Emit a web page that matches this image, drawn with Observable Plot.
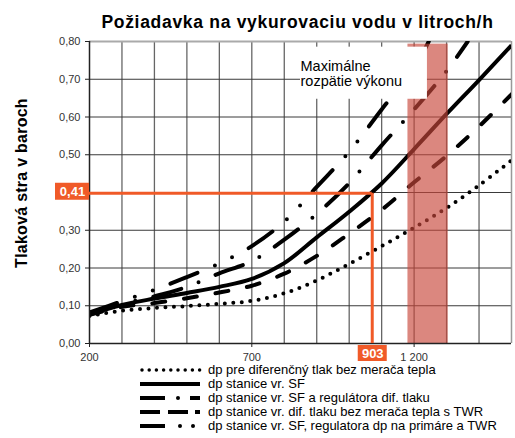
<!DOCTYPE html>
<html><head><meta charset="utf-8">
<script src="https://cdn.jsdelivr.net/npm/d3@7"></script>
<script src="https://cdn.jsdelivr.net/npm/@observablehq/plot@0.6"></script>
<style>
body{margin:0;background:#fff;font-family:"Liberation Sans",Arial,sans-serif;}
#wrap{position:relative;width:515px;height:438px;overflow:hidden;background:#fff;}
#chart{position:absolute;left:0;top:0;}
#title{position:absolute;left:40px;width:515px;top:12px;text-align:center;font-weight:bold;font-size:17.5px;line-height:20px;letter-spacing:0.7px;color:#000;white-space:nowrap;}
#ytitle{position:absolute;left:-78px;top:173px;width:200px;height:20px;line-height:20px;text-align:center;font-weight:bold;font-size:16px;letter-spacing:0.25px;color:#000;white-space:nowrap;transform:rotate(-90deg);transform-origin:50% 50%;}
#legend{position:absolute;left:135px;top:361px;width:380px;padding:2px 0 0 5px;background:#fff;}
.row{display:flex;align-items:center;height:14px;font-size:13px;line-height:14px;color:#000;white-space:nowrap;}
.row svg{width:62px;height:14px;margin-right:6px;flex:none;}
</style></head><body>
<div id="wrap"><div id="chart"></div><div id="title"></div><div id="ytitle"></div><div id="legend"></div></div>
<script>
// ---- data ----
const titleText = "Požiadavka na vykurovaciu vodu v litroch/h";
const yTitle = "Tlaková stra v baroch";
const seriesNames = [
  "dp pre diferenčný tlak bez merača tepla",
  "dp stanice vr. SF",
  "dp stanice vr. SF a regulátora dif. tlaku",
  "dp stanice vr. dif. tlaku bez merača tepla s TWR",
  "dp stanice vr. SF, regulatora dp na primáre a TWR"
];
const xDotted = [200, 300, 400, 500, 600, 700, 800, 900, 1000, 1100, 1200, 1300, 1400, 1500];
const yDotted = [0.073, 0.087, 0.094, 0.099, 0.105, 0.113, 0.133, 0.167, 0.211, 0.258, 0.307, 0.359, 0.419, 0.485];
const xSolid = [200, 300, 400, 500, 600, 700, 800, 900, 1000, 1100, 1200, 1300, 1400, 1500];
const ySolid = [0.077, 0.102, 0.119, 0.134, 0.150, 0.171, 0.213, 0.281, 0.349, 0.424, 0.515, 0.608, 0.698, 0.790];
const xDashDot = [200, 300, 400, 500, 600, 700, 800, 900, 1000, 1100, 1200, 1300, 1365];
const yDashDot = [0.080, 0.105, 0.125, 0.150, 0.186, 0.218, 0.275, 0.343, 0.425, 0.525, 0.620, 0.722, 0.800];
const xDashed = [200, 300, 400, 500, 600, 700, 800, 900, 1000, 1100, 1200, 1300, 1400, 1500];
const yDashed = [0.076, 0.097, 0.107, 0.120, 0.135, 0.153, 0.185, 0.232, 0.291, 0.354, 0.427, 0.497, 0.575, 0.660];
const xDashDotDot = [200, 300, 400, 500, 600, 700, 800, 900, 1000, 1100, 1200, 1245];
const yDashDotDot = [0.082, 0.112, 0.142, 0.176, 0.212, 0.258, 0.323, 0.415, 0.508, 0.620, 0.730, 0.800];
const xGrid = [300, 400, 500, 600, 700, 800, 900, 1000, 1100, 1200, 1300, 1400];
const yGrid = [0.1, 0.2, 0.3, 0.4, 0.5, 0.6, 0.7];
const xTicks = [200, 700, 1200];
const yTicks = [0, 0.1, 0.2, 0.3, 0.4, 0.5, 0.6, 0.7, 0.8];
const yHiddenLabel = 0.4;
const xDomain = [200, 1500];
const yDomain = [0, 0.8];
const bandX = [1181, 1305];
const bandTop = 0.793;
const boxX = [850, 1241];
const boxY = [0.647, 0.785];
const boxLines = ["Maximálne", "rozpätie výkonu"];
const boxLineY = [0.723, 0.683];
const markerX = 1071;
const markerY = 0.398;
const markerLabels = ["0,41", "903"];

// ---- build ----
const orange = "#f05a28";
const mk = (xs, ys) => xs.map((x, i) => ({x, y: ys[i]}));
const lineStyle = {x: "x", y: "y", stroke: "#000", strokeWidth: 4, curve: "catmull-rom", clip: true};
const series = [
  {data: mk(xDotted, yDotted), dash: "0,8.5", cap: "round"},
  {data: mk(xSolid, ySolid), dash: null, cap: "butt"},
  {data: mk(xDashDot, yDashDot), dash: "29,18.5,0,18.5", cap: "round"},
  {data: mk(xDashed, yDashed), dash: "13,19", cap: "round"},
  {data: mk(xDashDotDot, yDashDotDot), dash: "29,19,0,19,0,19", cap: "round"}
];
const fmtX = d => d3.format(",")(d).replace(",", " ");
const fmtY = d => d === yHiddenLabel ? "" : d.toFixed(2).replace(".", ",");
const one = [0];

const chart = Plot.plot({
  width: 515, height: 365,
  marginLeft: 89, marginRight: 4, marginTop: 41, marginBottom: 22,
  style: {fontFamily: "Liberation Sans, Arial, sans-serif", fontSize: "11px", color: "#333", background: "transparent"},
  x: {domain: xDomain},
  y: {domain: yDomain},
  marks: [
    Plot.ruleX(xGrid, {stroke: "#666", strokeWidth: 1.3}),
    Plot.ruleY(yGrid, {stroke: "#3a3a3a", strokeWidth: 1}),
    Plot.ruleY([yDomain[1]], {stroke: "#aaa", strokeWidth: 2}),
    Plot.ruleX([xDomain[1]], {stroke: "#999", strokeWidth: 1.5}),
    ...series.map(s => Plot.line(s.data, {...lineStyle, strokeDasharray: s.dash || undefined, strokeLinecap: s.cap})),
    Plot.rect(one, {x1: () => bandX[0], x2: () => bandX[1], y1: () => 0, y2: () => bandTop, fill: "#c8473a", fillOpacity: 0.65}),
    Plot.rect(one, {x1: () => boxX[0], x2: () => boxX[1], y1: () => boxY[0], y2: () => boxY[1], fill: "#fff"}),
    Plot.text(boxLines, {x: () => boxX[0], y: (d, i) => boxLineY[i], text: d => d, textAnchor: "start", lineAnchor: "bottom", fontSize: 14.5, fill: "#000"}),
    Plot.axisY({ticks: yTicks, tickFormat: fmtY, tickSize: 4, tickPadding: 5, label: null, stroke: "#222", fill: "#333", fontSize: 11}),
    Plot.axisX({ticks: xTicks, tickFormat: fmtX, tickSize: 4, tickPadding: 6, label: null, stroke: "#222", fill: "#333", fontSize: 11}),
    Plot.ruleX([xDomain[0]], {stroke: "#222", strokeWidth: 1.5}),
    Plot.ruleY([0], {stroke: "#222", strokeWidth: 1.5}),
    Plot.ruleY([markerY], {x1: xDomain[0], x2: markerX, stroke: orange, strokeWidth: 3}),
    Plot.ruleX([markerX], {y1: 0, y2: markerY, stroke: orange, strokeWidth: 3}),
    Plot.rect([markerY], {x1: () => xDomain[0], x2: () => xDomain[0], y1: d => d, y2: d => d, insetLeft: -34, insetRight: 0, insetTop: -10, insetBottom: -7, fill: orange}),
    Plot.text([markerY], {x: () => xDomain[0], y: d => d, text: () => markerLabels[0], dx: -17, dy: -1, fill: "#fff", fontWeight: "bold", fontSize: 13}),
    Plot.rect([markerX], {x1: d => d, x2: d => d, y1: () => 0, y2: () => 0, insetLeft: -14, insetRight: -15, insetTop: 2, insetBottom: -18, fill: orange}),
    Plot.text([markerX], {x: d => d, y: () => 0, text: () => markerLabels[1], dx: 0.5, dy: 10, fill: "#fff", fontWeight: "bold", fontSize: 13})
  ]
});
document.getElementById("chart").appendChild(chart);
document.getElementById("title").textContent = titleText;
document.getElementById("ytitle").textContent = yTitle;

// legend
const sw = [
  `<line x1="2" y1="7" x2="60" y2="7" stroke="#000" stroke-width="3.5" stroke-linecap="round" stroke-dasharray="0,7.2"/>`,
  `<line x1="0" y1="7" x2="60" y2="7" stroke="#000" stroke-width="4"/>`,
  `<line x1="0" y1="7" x2="25" y2="7" stroke="#000" stroke-width="4"/><circle cx="38" cy="7" r="2"/><line x1="50" y1="7" x2="60" y2="7" stroke="#000" stroke-width="4"/>`,
  `<line x1="0" y1="7" x2="20" y2="7" stroke="#000" stroke-width="4"/><line x1="28" y1="7" x2="48" y2="7" stroke="#000" stroke-width="4"/><line x1="55" y1="7" x2="60" y2="7" stroke="#000" stroke-width="4"/>`,
  `<line x1="0" y1="7" x2="25" y2="7" stroke="#000" stroke-width="4"/><circle cx="40" cy="7" r="2"/><circle cx="53" cy="7" r="2"/>`
];
document.getElementById("legend").innerHTML = seriesNames.map((n, i) =>
  `<div class="row"><svg viewBox="0 0 62 14">${sw[i]}</svg><span>${n}</span></div>`).join("");
</script>
</body></html>
